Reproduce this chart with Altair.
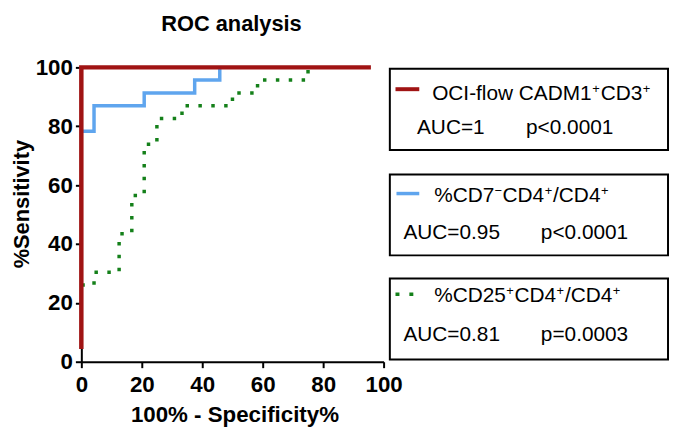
import altair as alt
import pandas as pd

# ---- data ----
series_names = ["OCI-flow CADM1+CD3+", "%CD7-CD4+/CD4+", "%CD25+CD4+/CD4+"]

red_x = [0.0, 0.0, 95.8]
red_y = [4.3, 100.0, 100.0]

blue_x = [0.0, 4.2, 4.2, 20.8, 20.8, 37.5, 37.5, 45.8, 45.8]
blue_y = [78.3, 78.3, 87.0, 87.0, 91.3, 91.3, 95.7, 95.7, 100.0]

green_x = [0.0, 4.2, 4.2, 12.5, 12.5, 16.7, 16.7, 20.8, 20.8, 25.0, 25.0,
           33.3, 33.3, 50.0, 50.0, 58.3, 58.3, 75.0, 75.0]
green_y = [26.1, 26.1, 30.4, 30.4, 43.5, 43.5, 56.5, 56.5, 73.9, 73.9, 82.6,
           82.6, 87.0, 87.0, 91.3, 91.3, 95.7, 95.7, 100.0]

auc_labels = ["AUC=1", "AUC=0.95", "AUC=0.81"]
p_labels = ["p<0.0001", "p<0.0001", "p=0.0003"]

x_ticks = [0, 20, 40, 60, 80, 100]
y_ticks = [0, 20, 40, 60, 80, 100]

RED = "#a01414"
BLUE = "#5fa5ee"
GREEN = "#14801a"
FONT = "Liberation Sans"


def series_df(xs, ys, name):
    return pd.DataFrame({"x": xs, "y": ys, "order": list(range(len(xs))), "series": name})


df_red = series_df(red_x, red_y, series_names[0])
df_blue = series_df(blue_x, blue_y, series_names[1])
df_green = series_df(green_x, green_y, series_names[2])

xs = alt.Scale(domain=[0, 100], nice=False, zero=True)
ys = alt.Scale(domain=[0, 100], nice=False, zero=True)

x_enc = alt.X("x:Q", scale=xs,
              axis=alt.Axis(values=x_ticks, title="100% - Specificity%",
                            titleX=154.5, titleY=60, titleBaseline="alphabetic",
                            labelPadding=6))
y_enc = alt.Y("y:Q", scale=ys,
              axis=alt.Axis(values=y_ticks, title="%Sensitivity",
                            titleX=-53, titleY=137.5, titleAngle=270,
                            titleFontSize=22, titleBaseline="alphabetic",
                            labelPadding=3))

green_line = alt.Chart(df_green).mark_line(
    color=GREEN, strokeWidth=3.5, strokeDash=[3.5, 9.5], strokeCap="butt"
).encode(x=x_enc, y=y_enc, order="order:Q")

blue_line = alt.Chart(df_blue).mark_line(
    color=BLUE, strokeWidth=3.5, strokeCap="butt"
).encode(x="x:Q", y="y:Q", order="order:Q")

red_line = alt.Chart(df_red).mark_line(
    color=RED, strokeWidth=4.5, strokeCap="butt"
).encode(x="x:Q", y="y:Q", order="order:Q")

layers = [green_line, blue_line, red_line]

anchor = pd.DataFrame({"a": [0]})


def txt(text, x, y, size=21, weight="normal", align="left"):
    return alt.Chart(anchor).mark_text(
        text=text, font=FONT, fontSize=size, fontWeight=weight, align=align,
        baseline="alphabetic", color="black"
    ).encode(x=alt.value(x), y=alt.value(y))


# title
layers.append(txt("ROC analysis", 151.5, -37, size=22, weight="bold", align="center"))

# legend boxes
for (y0, y1) in [(1.3, 83.3), (108, 189.7), (213, 294.7)]:
    layers.append(
        alt.Chart(anchor).mark_rect(filled=False, stroke="black", strokeWidth=2)
        .encode(x=alt.value(311.3), x2=alt.value(592), y=alt.value(y0), y2=alt.value(y1))
    )

# legend samples
layers.append(alt.Chart(anchor).mark_rule(color=RED, strokeWidth=4, strokeCap="butt")
              .encode(x=alt.value(317), x2=alt.value(341), y=alt.value(22)))
layers.append(alt.Chart(anchor).mark_rule(color=BLUE, strokeWidth=3.5, strokeCap="butt")
              .encode(x=alt.value(318), x2=alt.value(341), y=alt.value(127.3)))
layers.append(alt.Chart(anchor).mark_rule(color=GREEN, strokeWidth=3.5, strokeDash=[4, 10],
                                          strokeCap="butt")
              .encode(x=alt.value(317), x2=alt.value(336), y=alt.value(229)))

SUP = 13
# row 1: OCI-flow CADM1+CD3+
layers += [txt("OCI-flow CADM1", 354, 33), txt("+", 515.5, 26, size=SUP),
           txt("CD3", 524, 33), txt("+", 566.5, 26, size=SUP)]
# row 2: %CD7-CD4+/CD4+
layers += [txt("%CD7", 356, 135.7), txt("\u2212", 417, 128.7, size=SUP),
           txt("CD4", 425, 135.7), txt("+", 467.5, 128.7, size=SUP),
           txt("/CD4", 476, 135.7), txt("+", 524.3, 128.7, size=SUP)]
# row 3: %CD25+CD4+/CD4+
layers += [txt("%CD25", 356, 237), txt("+", 428.8, 230, size=SUP),
           txt("CD4", 437, 237), txt("+", 479.5, 230, size=SUP),
           txt("/CD4", 488, 237), txt("+", 536.3, 230, size=SUP)]

# AUC / p rows
layers += [txt(auc_labels[0], 338.7, 67.3), txt(p_labels[0], 448.7, 67.3),
           txt(auc_labels[1], 325, 173), txt(p_labels[1], 463.7, 173),
           txt(auc_labels[2], 325, 275.7), txt(p_labels[2], 463.7, 275.7)]

chart = alt.layer(*layers).properties(
    width=305, height=297,
    autosize=alt.AutoSizeParams(type="none"),
    padding={"left": 74, "top": 58, "right": 289, "bottom": 70},
).configure_view(stroke=None).configure_axis(
    labelFont=FONT, labelFontSize=22.5, labelFontWeight="bold", labelColor="black",
    titleFont=FONT, titleFontSize=22.5, titleFontWeight="bold", titleColor="black",
    domainColor="black", domainWidth=2, tickColor="black", tickWidth=2, tickSize=6,
    grid=False, labelFlush=False, labelOverlap=False,
)

chart.save("out.html", embed_options={"renderer": "svg", "actions": False})
